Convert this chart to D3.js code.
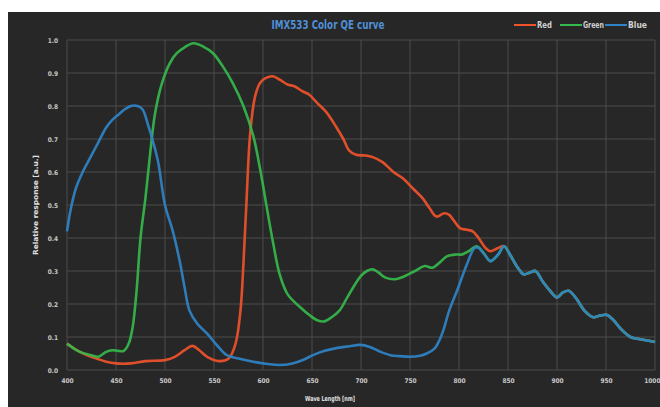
<!DOCTYPE html>
<html><head><meta charset="utf-8">
<script src="https://cdn.jsdelivr.net/npm/d3@7"></script>
<style>
html,body{margin:0;padding:0;background:#fff;}
svg{display:block;}
text{font-family:"DejaVu Sans Condensed","DejaVu Sans",sans-serif;font-stretch:condensed;}
</style></head>
<body><svg id="chart" width="660" height="407"></svg>
<script>
const chartTitle = "IMX533 Color QE curve";
const xTicks = [400,450,500,550,600,650,700,750,800,850,900,950,1000];
const yTicks = [0,0.1,0.2,0.3,0.4,0.5,0.6,0.7,0.8,0.9,1.0];
const seriesNames = ["Red","Green","Blue"];

const tailWl = [852,860,866,872,878,885,893,900,906,912,920,928,937,944,951,958,965,975,985,1000];
const tailQE = [0.35,0.31,0.29,0.295,0.30,0.27,0.24,0.22,0.235,0.24,0.215,0.18,0.16,0.165,0.167,0.15,0.125,0.10,0.093,0.085];

const redWl = [400,410,420,430,440,450,465,480,500,510,520,528,535,543,555,565,572,577,580,583,587,592,597,603,610,617,625,632,640,647,655,665,675,682,688,695,705,712,722,733,743,753,763,770,777,785,790,801,808,814,820,827,832,840,846];
const redQE = [0.08,0.06,0.045,0.035,0.025,0.02,0.02,0.027,0.03,0.04,0.06,0.073,0.06,0.04,0.027,0.035,0.08,0.18,0.32,0.5,0.72,0.83,0.87,0.885,0.89,0.88,0.865,0.86,0.845,0.835,0.81,0.78,0.735,0.70,0.665,0.652,0.65,0.645,0.63,0.60,0.58,0.55,0.52,0.49,0.465,0.475,0.47,0.43,0.425,0.42,0.40,0.37,0.36,0.37,0.375];

const greenWl = [400,413,425,432,440,446,452,458,463,467,471,475,480,485,490,497,505,512,520,529,539,549,559,569,580,590,597,604,610,617,625,638,648,656,662,670,678,686,694,700,706,712,718,725,735,745,755,765,773,780,788,797,803,810,818,825,832,840,846];
const greenQE = [0.08,0.055,0.045,0.04,0.055,0.06,0.058,0.058,0.08,0.13,0.24,0.40,0.52,0.66,0.78,0.87,0.93,0.96,0.978,0.99,0.98,0.96,0.92,0.87,0.80,0.71,0.61,0.49,0.39,0.29,0.23,0.19,0.165,0.15,0.147,0.16,0.18,0.22,0.26,0.285,0.30,0.305,0.295,0.28,0.275,0.285,0.30,0.315,0.31,0.325,0.345,0.35,0.35,0.36,0.375,0.355,0.33,0.35,0.375];

const blueWl = [400,404,409,416,424,432,440,447,453,459,465,472,477,483,488,493,500,508,515,520,525,533,543,553,563,575,590,605,617,630,642,651,663,676,688,699,709,720,730,740,750,760,767,775,780,784,790,798,808,816,820,826,832,840,846];
const blueQE = [0.42,0.49,0.55,0.60,0.645,0.69,0.735,0.76,0.775,0.79,0.80,0.80,0.79,0.74,0.69,0.63,0.50,0.42,0.33,0.25,0.18,0.14,0.11,0.075,0.045,0.035,0.025,0.018,0.015,0.02,0.032,0.045,0.058,0.067,0.072,0.076,0.07,0.055,0.045,0.042,0.04,0.043,0.05,0.065,0.09,0.12,0.18,0.24,0.32,0.37,0.37,0.35,0.33,0.35,0.375];

const colors = {Red:"#f0522b", Green:"#35b84c", Blue:"#2f83c6"};

const svg = d3.select("#chart");
svg.append("rect").attr("x",8).attr("y",12).attr("width",652).attr("height",395).attr("fill","#272727");

const x = d3.scaleLinear().domain([400,1000]).range([67,655]);
const y = d3.scaleLinear().domain([0,1]).range([370,40]);

// grid
const g = svg.append("g");
g.selectAll("line.v").data(xTicks).join("line")
  .attr("x1",d=>x(d)).attr("x2",d=>x(d)).attr("y1",y(1)).attr("y2",y(0))
  .attr("stroke","#4d4d4d").attr("stroke-width",1);
g.selectAll("line.h").data(yTicks).join("line")
  .attr("x1",x(400)).attr("x2",x(1000)).attr("y1",d=>y(d)).attr("y2",d=>y(d))
  .attr("stroke","#4d4d4d").attr("stroke-width",1);

// axes (labels only)
const xAxis = d3.axisBottom(x).tickValues(xTicks).tickSize(0).tickPadding(8).tickFormat(d3.format("d"));
const xg = svg.append("g").attr("transform",`translate(0,${y(0)})`).call(xAxis);
const yAxis = d3.axisLeft(y).tickValues(yTicks).tickSize(0).tickPadding(9).tickFormat(d3.format(".1f"));
const yg = svg.append("g").attr("transform",`translate(${x(400)},0)`).call(yAxis);
[xg,yg].forEach(a=>{
  a.select(".domain").remove();
  a.selectAll("text").attr("fill","#c8c8c8").style("font-size","6.5px").style("font-weight","bold");
});
xg.selectAll(".tick").filter(d=>d===1000).select("text").attr("text-anchor","end").attr("dx","5");

// series
const line = d3.line().x(d=>x(d[0])).y(d=>y(d[1])).curve(d3.curveCatmullRom.alpha(0.5));
function pts(wl,qe){ return wl.map((w,i)=>[w,qe[i]]).concat(tailWl.map((w,i)=>[w,tailQE[i]])); }
const series = [
  {name:"Red", data:pts(redWl,redQE)},
  {name:"Green", data:pts(greenWl,greenQE)},
  {name:"Blue", data:pts(blueWl,blueQE)}
];
svg.append("g").selectAll("path").data(series).join("path")
  .attr("d",d=>line(d.data)).attr("fill","none")
  .attr("stroke",d=>colors[d.name]).attr("stroke-width",2.6).attr("stroke-opacity",0.92)
  .attr("stroke-linejoin","round");

// title
svg.append("text").attr("x",328).attr("y",29).attr("text-anchor","middle")
  .attr("textLength",113).attr("lengthAdjust","spacingAndGlyphs")
  .attr("fill","#4f8fd6").style("font-size","12px").style("font-weight","bold").text(chartTitle);

// legend
const legX = [514,560,605];
const legW = [15,21,19];
const lg = svg.append("g");
seriesNames.forEach((n,i)=>{
  lg.append("line").attr("x1",legX[i]).attr("x2",legX[i]+22).attr("y1",25).attr("y2",25)
    .attr("stroke",colors[n]).attr("stroke-width",2);
  lg.append("text").attr("x",legX[i]+23).attr("y",28).attr("fill","#d0d0d0")
    .attr("textLength",legW[i]).attr("lengthAdjust","spacingAndGlyphs")
    .style("font-size","8.5px").style("font-weight","bold").text(n);
});

// axis titles
svg.append("text").attr("x",330).attr("y",401).attr("text-anchor","middle")
  .attr("textLength",50).attr("lengthAdjust","spacingAndGlyphs")
  .attr("fill","#e0e0e0").style("font-size","7px").style("font-weight","bold").text("Wave Length [nm]");
svg.append("text").attr("transform","translate(38,205) rotate(-90)").attr("text-anchor","middle")
  .attr("textLength",100).attr("lengthAdjust","spacingAndGlyphs")
  .attr("fill","#e0e0e0").style("font-size","7px").style("font-weight","bold").text("Relative response [a.u.]");
</script></body></html>
